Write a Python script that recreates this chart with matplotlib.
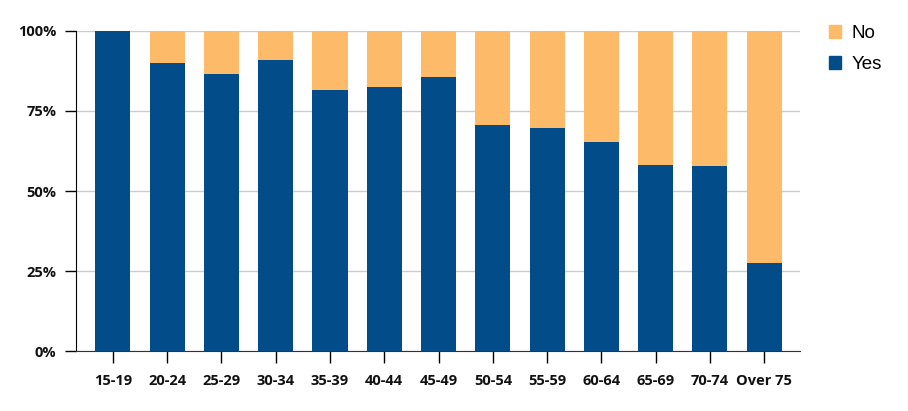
import numpy as np
from matplotlib import pyplot as plt
from matplotlib.patches import Patch
from matplotlib.ticker import FuncFormatter

ageGroups = ["15-19", "20-24", "25-29", "30-34", "35-39", "40-44", "45-49",
             "50-54", "55-59", "60-64", "65-69", "70-74", "Over 75"]
yesPct = [100.0, 90.0, 86.6, 90.9, 81.6, 82.5, 85.6, 70.6, 69.7, 65.3, 58.1, 57.8, 27.5]
noPct = [100 - v for v in yesPct]

yesColor = "#024c89"
noColor = "#fdbb6a"

fig = plt.figure(figsize=(9.08, 4.11), dpi=100)
ax = fig.add_axes([76 / 908, 60 / 411, 724 / 908, 320 / 411])

x = np.arange(len(ageGroups))
ax.bar(x, yesPct, width=0.645, color=yesColor, zorder=3)
ax.bar(x, noPct, bottom=yesPct, width=0.645, color=noColor, zorder=3)

ax.set_xlim(-0.68, 12.66)
ax.set_ylim(0, 100)
ax.set_yticks([0, 25, 50, 75, 100])
ax.yaxis.set_major_formatter(FuncFormatter(lambda v, p: "%d%%" % v))
ax.set_xticks(x)
ax.set_xticklabels(ageGroups)

ax.grid(True, axis="y", color="#cccccc", linewidth=1, zorder=0)
for s in ["top", "right"]:
    ax.spines[s].set_visible(False)
ax.spines["left"].set_color("#000000")
ax.spines["bottom"].set_color("#333333")
ax.tick_params(axis="y", length=8, width=1, pad=6)
ax.tick_params(axis="x", length=8.5, width=1, pad=8)
for lbl in ax.get_xticklabels() + ax.get_yticklabels():
    lbl.set_fontfamily("Open Sans")
    lbl.set_fontweight("bold")
    lbl.set_fontsize(10.5)
    lbl.set_color("#111111")

handles = [Patch(color=noColor, label="No"), Patch(color=yesColor, label="Yes")]
fig.legend(handles=handles, loc="upper left", bbox_to_anchor=(812 / 908, 1 - 8 / 411),
           frameon=False, prop={"family": "Liberation Sans", "size": 13.5},
           handlelength=0.65, handleheight=0.65, handletextpad=0.55, labelspacing=0.75)

fig.savefig("out.png", dpi=100)
